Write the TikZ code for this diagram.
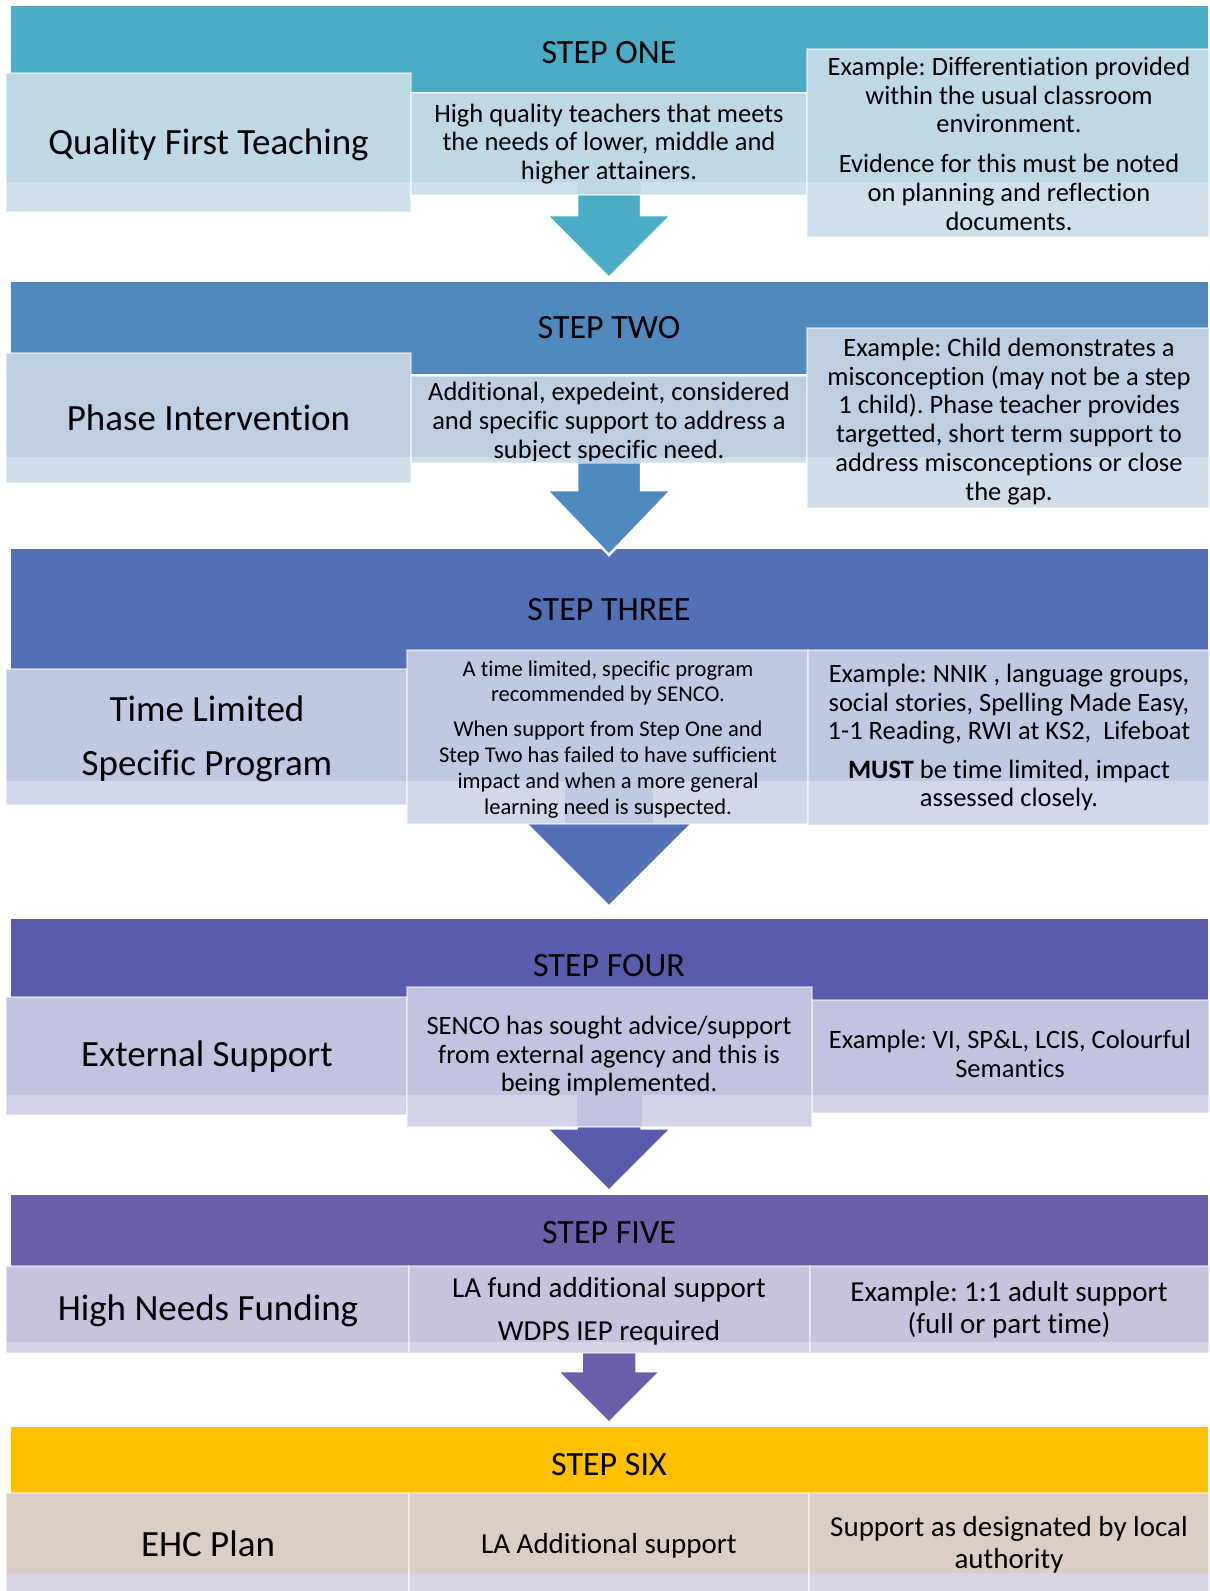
\documentclass[tikz,border=0pt]{standalone}
\usepackage{fontspec}
\setmainfont[Ligatures=NoCommon]{Carlito}
\frenchspacing

% band colours (header strips and block arrows)
\definecolor{bandOne}{HTML}{4BACC6}
\definecolor{bandTwo}{HTML}{4F89BD}
\definecolor{bandThree}{HTML}{5370B7}
\definecolor{bandFour}{HTML}{5A5BAD}
\definecolor{bandFive}{HTML}{6C5EA8}
\definecolor{bandSix}{HTML}{FFC000}
% panel colours: upper part / lighter lower strip
\definecolor{boxOneU}{HTML}{BED8E4}
\definecolor{boxOneL}{HTML}{D0E0EA}
\definecolor{boxTwoU}{HTML}{BFCFE2}
\definecolor{boxTwoL}{HTML}{D1DCE9}
\definecolor{boxThreeU}{HTML}{C1C8E2}
\definecolor{boxThreeL}{HTML}{D2D7E9}
\definecolor{boxFourU}{HTML}{C2C3E0}
\definecolor{boxFourL}{HTML}{D3D3E8}
\definecolor{boxFiveU}{HTML}{C7C3DD}
\definecolor{boxFiveL}{HTML}{D6D3E7}
\definecolor{boxSixU}{HTML}{DBCEC7}
\definecolor{boxSixL}{HTML}{D9D4E4}

% panel: x1, y1, x2, y2, split y, upper colour, lower colour
\newcommand{\panel}[7]{%
  \fill[#6] (#1,#2) rectangle (#3,#4);
  \fill[#7] (#1,#5) rectangle (#3,#4);
  \draw[paneledge] (#1,#2) rectangle (#3,#4);
}
% down arrow: colour, centre x, shaft half width, head half width, shaft top, head top, tip
\newcommand{\downarrowshape}[7]{%
  \filldraw[blockarrow, fill=#1] (#2-#3,#5) -- (#2-#3,#6) -- (#2-#4,#6) -- (#2,#7)
    -- (#2+#4,#6) -- (#2+#3,#6) -- (#2+#3,#5) -- cycle;
}

\begin{document}
\begin{tikzpicture}[x=1pt,y=-1pt,
  % multi-line nodes are placed by the baseline of their last line
  hdr/.style={anchor=base,inner sep=0pt,font=\fontsize{34}{40}\selectfont},
  lbl/.style={anchor=base,inner sep=0pt,align=center,font=\fontsize{37}{53.3}\selectfont},
  body/.style={anchor=base,inner sep=0pt,align=center,font=\fontsize{26.5}{28.7}\selectfont},
  small/.style={anchor=base,inner sep=0pt,align=center,font=\fontsize{22.5}{25.9}\selectfont},
  big/.style={anchor=base,inner sep=0pt,align=center,font=\fontsize{29}{31.6}\selectfont},
  paneledge/.style={draw=white,draw opacity=0.45,line width=2pt},
  blockarrow/.style={draw=white,line width=2.5pt,line join=miter},
]
\useasboundingbox (0,0) rectangle (1210,1591);
\fill[white] (0,0) rectangle (1210,1591);

% header bands
\fill[bandOne]   (10.7,6)      rectangle (1208,92);
\fill[bandTwo]   (10.7,281.7)  rectangle (1208,374);
\fill[bandThree] (10.7,549.3)  rectangle (1208,680);
\fill[bandFour]  (10.7,919.3)  rectangle (1208,1000);
\fill[bandFive]  (10.7,1195)   rectangle (1208,1266);
\fill[bandSix]   (10.7,1426.7) rectangle (1208,1493);

% block arrows between the steps
\downarrowshape{bandOne}{609}{32}{62.5}{150}{215}{278}
\downarrowshape{bandTwo}{609}{32}{62.5}{420}{490}{555}
\downarrowshape{bandThree}{609}{44}{106.7}{760}{800}{906.7}
\downarrowshape{bandFour}{609}{32.5}{62.5}{1080}{1128.3}{1191}
\downarrowshape{bandFive}{609}{27.5}{51.75}{1320}{1371}{1423}

% step one panels
\panel{6}{73}{411}{212}{182}{boxOneU}{boxOneL}
\panel{411}{93}{807}{195}{182}{boxOneU}{boxOneL}
\fill[boxOneU] (577,182) rectangle (641,194);
\panel{807}{49}{1209}{237}{182}{boxOneU}{boxOneL}

% step two panels
\panel{6}{352.7}{411}{483.3}{456.7}{boxTwoU}{boxTwoL}
\panel{411}{375.5}{807}{463.3}{456.7}{boxTwoU}{boxTwoL}
\fill[boxTwoU] (577,456.7) rectangle (641,462.5);
\panel{807}{328.3}{1209}{508.3}{456.7}{boxTwoU}{boxTwoL}

% step three panels
\panel{6}{669.3}{407}{805}{780.7}{boxThreeU}{boxThreeL}
\panel{407}{650}{808}{824.3}{780.7}{boxThreeU}{boxThreeL}
\fill[boxThreeU] (565,780.7) rectangle (653,823.3);
\panel{808}{650}{1209}{825}{780.7}{boxThreeU}{boxThreeL}

% step four panels
\panel{6}{996.7}{407}{1115}{1095}{boxFourU}{boxFourL}
\panel{812}{1000}{1209}{1113.3}{1095}{boxFourU}{boxFourL}
\panel{407}{986.7}{812}{1126.7}{1095}{boxFourU}{boxFourL}
\fill[boxFourU] (577,1095) rectangle (642,1125.7);

% step five panels
\panel{6}{1266}{409}{1353.3}{1342.3}{boxFiveU}{boxFiveL}
\panel{409}{1266}{809.5}{1353.3}{1342.3}{boxFiveU}{boxFiveL}
\panel{809.5}{1266}{1209}{1353.3}{1342.3}{boxFiveU}{boxFiveL}

% step six panels
\panel{6}{1493.3}{409}{1595}{1572.7}{boxSixU}{boxSixL}
\panel{409}{1493.3}{809}{1595}{1572.7}{boxSixU}{boxSixL}
\panel{809}{1493.3}{1209}{1595}{1572.7}{boxSixU}{boxSixL}

% step one text
\node[hdr]  (hdrOne) at (609,63.4) {STEP ONE};
\node[lbl]  (lblOne) at (208.5,154) {Quality First Teaching};
\node[body] (midOne) at (609,179.5) {High quality teachers that meets\\the needs of lower, middle and\\higher attainers.};
\node[body] (exOne)  at (1009,230) {Example: Differentiation provided\\within the usual classroom\\environment.\\[11pt]Evidence for this must be noted\\on planning and reflection\\documents.};

% step two text (last line runs past the panel and is cut at its edge)
\node[hdr]  (hdrTwo) at (609,338.5) {STEP TWO};
\node[lbl]  (lblTwo) at (208.5,430) {Phase Intervention};
\begin{scope}
  \clip (411,375.5) rectangle (807,460.3);
  \node[body] (midTwo) at (609,458.3) {Additional, expedeint, considered\\and specific support to address a\\subject specific need.};
\end{scope}
\node[body] (exTwo) at (1009,500) {Example: Child demonstrates a\\misconception (may not be a step\\1 child). Phase teacher provides\\targetted, short term support to\\address misconceptions or close\\the gap.};

% step three text
\node[hdr]   (hdrThree) at (609,620.5) {STEP THREE};
\node[lbl]   (lblThree) at (207,775) {Time Limited\\Specific Program};
\node[small] (midThree) at (608,814) {A time limited, specific program\\recommended by SENCO.\\[8.5pt]When support from Step One and\\Step Two has failed to have sufficient\\impact and when a more general\\learning need is suspected.};
\node[body]  (exThree)  at (1009,806.7) {Example: NNIK , language groups,\\social stories, Spelling Made Easy,\\1-1 Reading, RWI at KS2,\ \ Lifeboat\\[9.5pt]\textbf{MUST} be time limited, impact\\assessed closely.};

% step four text
\node[hdr]  (hdrFour) at (609,976) {STEP FOUR};
\node[lbl]  (lblFour) at (207,1066.7) {External Support};
\node[body] (midFour) at (609,1091.7) {SENCO has sought advice/support\\from external agency and this is\\being implemented.};
\node[body] (exFour)  at (1010,1077.3) {Example: VI, SP\&L, LCIS, Colourful\\Semantics};

% step five text
\node[hdr] (hdrFive) at (609,1243.5) {STEP FIVE};
\node[lbl] (lblFive) at (208,1320) {High Needs Funding};
\node[big] (midFive) at (609,1340) {LA fund additional support\\[11pt]WDPS IEP required};
\node[big] (exFive)  at (1009,1333.3) {Example: 1:1 adult support\\(full or part time)};

% step six text
\node[hdr] (hdrSix) at (609,1475.5) {STEP SIX};
\node[lbl] (lblSix) at (208,1556.7) {EHC Plan};
\node[big] (midSix) at (609,1553.3) {LA Additional support};
\node[big] (exSix)  at (1009,1568.3) {Support as designated by local\\authority};
\end{tikzpicture}
\end{document}
